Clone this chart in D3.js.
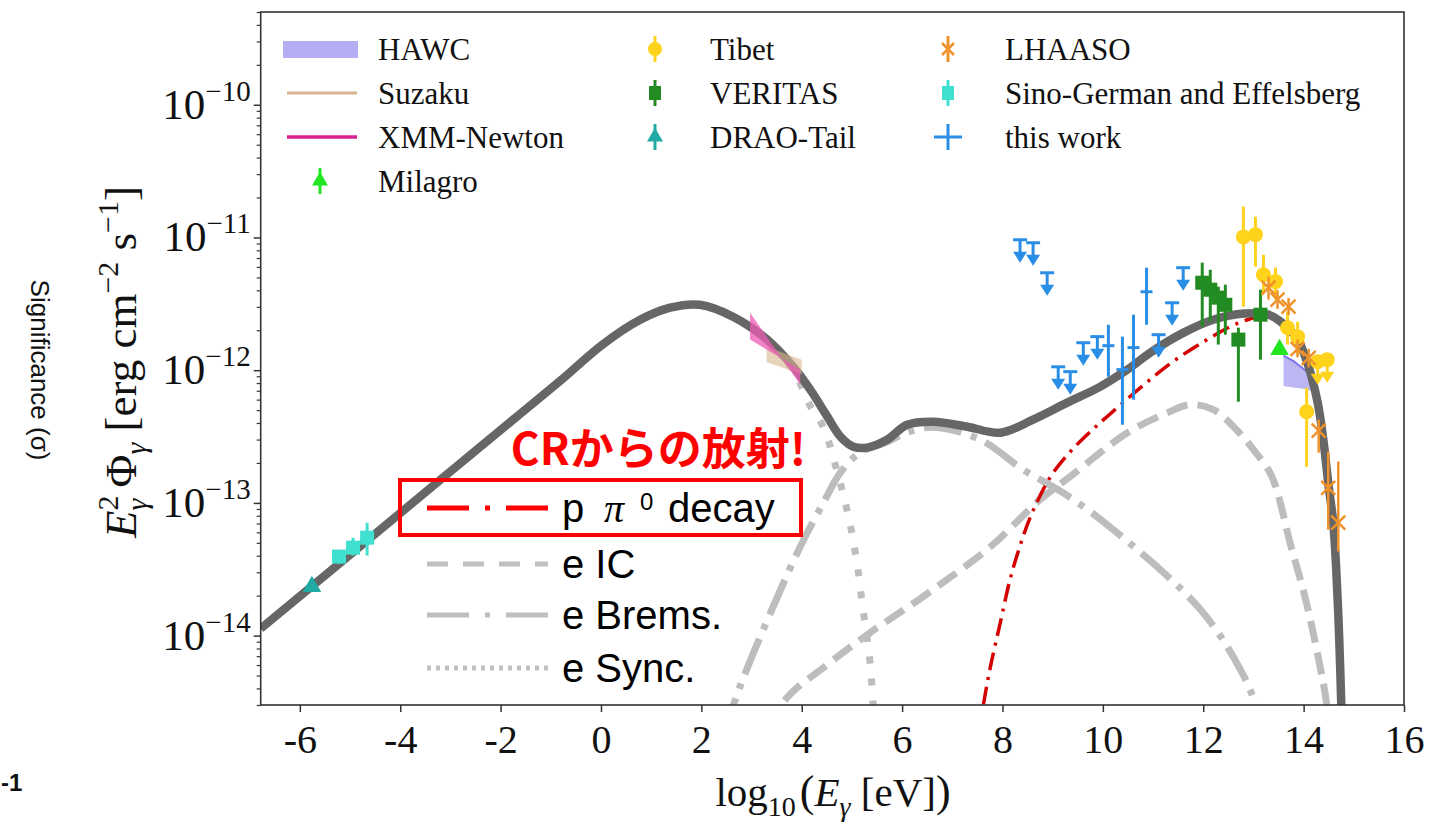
<!DOCTYPE html>
<html>
<head>
<meta charset="utf-8">
<script src="https://cdn.jsdelivr.net/npm/d3@7"></script>
<style>
  body { margin: 0; background: #fff; }
  svg { display: block; }
</style>
</head>
<body>
<div id="chart"></div>
<script>
// x: log10(E / eV), y: E^2 Phi in erg cm^-2 s^-1

const xTicks = [-6, -4, -2, 0, 2, 4, 6, 8, 10, 12, 14, 16];
const yTickExps = [-14, -13, -12, -11, -10];

// model curves
const totalModel = [
  [-6.78, 1.13e-14], [-4.40, 6.28e-14], [-1.75, 4.24e-13], [-0.80, 8.39e-13], [0.03, 1.56e-12],
  [0.78, 2.40e-12], [1.38, 2.96e-12], [1.97, 3.11e-12], [2.63, 2.53e-12], [3.31, 1.70e-12],
  [3.83, 1.06e-12], [4.17, 7.13e-13], [4.51, 4.47e-13], [4.77, 3.16e-13], [5.03, 2.65e-13],
  [5.30, 2.61e-13], [5.70, 2.99e-13], [6.10, 3.88e-13], [6.62, 4.09e-13], [7.30, 3.75e-13],
  [7.96, 3.38e-13], [8.61, 4.24e-13], [9.29, 5.69e-13], [9.95, 7.52e-13], [10.49, 1.01e-12],
  [10.95, 1.36e-12], [11.60, 1.91e-12], [12.20, 2.40e-12], [12.82, 2.67e-12], [13.30, 2.62e-12],
  [13.54, 2.32e-12], [13.88, 1.70e-12], [14.10, 1.06e-12], [14.28, 5.69e-13], [14.40, 2.84e-13],
  [14.49, 1.42e-13], [14.59, 7.10e-14], [14.65, 3.14e-14], [14.71, 9.33e-15], [14.75, 3.02e-15],
  [14.79, 8.22e-16]
];
const syncModel = [
  [-6.78, 1.13e-14], [-4.40, 6.28e-14], [-1.75, 4.24e-13], [-0.80, 8.39e-13], [0.03, 1.56e-12],
  [0.78, 2.40e-12], [1.38, 2.96e-12], [1.97, 3.11e-12], [2.63, 2.53e-12], [3.31, 1.69e-12],
  [3.83, 1.00e-12], [4.17, 5.37e-13], [4.43, 3.72e-13], [4.71, 1.70e-13], [4.93, 7.94e-14],
  [5.10, 3.55e-14], [5.22, 1.58e-14], [5.30, 9.77e-15], [5.36, 6.31e-15], [5.42, 3.16e-15],
  [5.47, 1.26e-15]
];
const icModel = [
  [3.17, 1.17e-15], [3.63, 3.13e-15], [4.50, 6.00e-15], [5.36, 1.05e-14], [6.42, 1.97e-14],
  [7.76, 4.68e-14], [8.75, 1.06e-13], [9.35, 1.58e-13], [10.49, 3.38e-13], [11.29, 4.79e-13],
  [11.74, 5.50e-13], [12.20, 5.04e-13], [12.68, 3.50e-13], [13.00, 2.52e-13], [13.36, 1.60e-13],
  [13.74, 4.84e-14], [14.04, 1.87e-14], [14.30, 6.59e-15], [14.46, 3.02e-15], [14.53, 1.17e-15]
];
const bremsModel = [
  [2.45, 1.80e-15], [2.77, 4.13e-15], [3.43, 1.65e-14], [3.97, 4.68e-14], [4.43, 1.00e-13],
  [4.77, 1.69e-13], [5.16, 2.39e-13], [5.70, 2.88e-13], [6.10, 3.39e-13], [6.62, 3.72e-13],
  [7.56, 2.99e-13], [8.41, 1.78e-13], [9.21, 1.19e-13], [10.21, 6.28e-14], [11.94, 1.58e-14],
  [12.74, 5.55e-15], [13.04, 3.02e-15], [13.18, 1.66e-15]
];
const pionModel = [
  [7.52, 1.66e-15], [7.62, 3.02e-15], [7.76, 5.83e-15], [7.96, 1.27e-14], [8.15, 2.64e-14],
  [8.35, 4.76e-14], [8.55, 7.74e-14], [8.81, 1.26e-13], [9.01, 1.69e-13], [9.35, 2.43e-13],
  [9.75, 3.44e-13], [10.15, 4.70e-13], [10.75, 7.38e-13], [11.34, 1.12e-12], [11.94, 1.58e-12],
  [12.54, 2.13e-12], [12.94, 2.44e-12], [13.24, 2.58e-12]
];

// measurements: [logE, flux, low, high]
const tibet = [
  [12.80, 1.01e-11, 3.01e-12, 1.71e-11], [13.04, 1.05e-11, 6.03e-12, 1.43e-11],
  [13.20, 5.24e-12, 3.90e-12, 7.41e-12], [13.44, 4.65e-12, 3.40e-12, 5.92e-12],
  [13.68, 2.09e-12, 1.56e-12, 2.76e-12], [13.88, 1.79e-12, 1.31e-12, 2.32e-12],
  [14.06, 4.86e-13, 1.87e-13, 7.38e-13]
];
const tibetUL = [[14.28, 1.16e-12], [14.47, 1.20e-12]];
const veritas = [
  [11.98, 4.56e-12, 2.13e-12, 6.46e-12], [12.14, 4.04e-12, 2.32e-12, 5.71e-12],
  [12.30, 3.52e-12, 1.56e-12, 4.26e-12], [12.44, 3.11e-12, 1.85e-12, 4.41e-12],
  [12.70, 1.70e-12, 5.79e-13, 2.09e-12], [13.14, 2.62e-12, 1.20e-12, 4.04e-12]
];
const lhaaso = [
  [13.30, 4.18e-12, 3.40e-12, 5.06e-12], [13.48, 3.40e-12, 2.90e-12, 4.00e-12],
  [13.70, 3.01e-12, 2.60e-12, 3.50e-12], [13.88, 1.45e-12, 1.25e-12, 1.70e-12],
  [14.10, 1.24e-12, 1.05e-12, 1.45e-12], [14.30, 3.50e-13, 2.39e-13, 4.24e-13],
  [14.49, 1.30e-13, 6.28e-14, 2.43e-13], [14.69, 7.10e-14, 4.30e-14, 2.05e-13]
];
const thisWork = [
  [10.11, 1.53e-12, 8.93e-13, 2.20e-12], [10.39, 1.01e-12, 3.88e-13, 1.79e-12],
  [10.61, 1.48e-12, 6.00e-13, 2.62e-12], [10.87, 3.90e-12, 2.20e-12, 5.92e-12]
];
const thisWorkUL = [
  [8.35, 9.62e-12], [8.61, 9.12e-12], [8.89, 5.42e-12], [9.11, 1.06e-12], [9.35, 9.75e-13],
  [9.61, 1.61e-12], [9.89, 1.79e-12], [11.11, 1.85e-12], [11.38, 3.22e-12], [11.60, 5.92e-12]
];
const sinoGerman = [
  [-5.22, 3.94e-14, 3.50e-14, 4.40e-14], [-4.94, 4.60e-14, 4.01e-14, 5.47e-14],
  [-4.66, 5.47e-14, 4.01e-14, 7.10e-14]
];
const draoTail = [[-5.76, 2.34e-14]];
const milagro = [[13.52, 1.43e-12]];

// butterflies: [logE, upper, lower]
const hawcBand = [[13.6, 1.29e-12, 7.59e-13], [13.8, 1.17e-12, 7.41e-13], [14.0, 1.02e-12, 7.24e-13], [14.2, 8.90e-13, 6.92e-13]];
const xmmBow = [[2.97, 2.71e-12, 1.70e-12], [3.97, 7.78e-13, 1.01e-12]];
const suzakuBow = [[3.30, 1.50e-12, 1.15e-12], [4.00, 1.20e-12, 9.30e-13]];

const legendItems = [
  { name: 'HAWC', col: 0, row: 0 }, { name: 'Suzaku', col: 0, row: 1 },
  { name: 'XMM-Newton', col: 0, row: 2 }, { name: 'Milagro', col: 0, row: 3 },
  { name: 'Tibet', col: 1, row: 0 }, { name: 'VERITAS', col: 1, row: 1 },
  { name: 'DRAO-Tail', col: 1, row: 2 },
  { name: 'LHAASO', col: 2, row: 0 }, { name: 'Sino-German and Effelsberg', col: 2, row: 1 },
  { name: 'this work', col: 2, row: 2 }
];
const modelLegend = ['p', 'e IC', 'e Brems.', 'e Sync.'];

const colors = {
  total: '#666666', comp: '#bdbdbd', pion: '#d40000',
  hawc: '#b5aef2', suzaku: '#d8b48e', xmm: '#d8208f',
  milagro: '#22e622', tibet: '#ffd21c', veritas: '#228b22', drao: '#20aaa4',
  lhaaso: '#f0922b', sino: '#40e0d0', work: '#2a8ee6'
};

const serif = '"Liberation Serif", "DejaVu Serif", serif';
const sans = '"Liberation Sans", Arial, sans-serif';

const W = 1434, H = 822;
const plot = { left: 260.7, right: 1404, top: 12, bottom: 705 };

const svg = d3.select('#chart').append('svg').attr('width', W).attr('height', H);
svg.append('rect').attr('width', W).attr('height', H).attr('fill', '#fff');

const x = d3.scaleLinear().domain([-6.78, 16]).range([plot.left, plot.right]);
const y = d3.scaleLog().domain([3.0e-15, 5.0e-10]).range([plot.bottom, plot.top]);

svg.append('defs').append('clipPath').attr('id', 'plotClip')
  .append('rect')
  .attr('x', plot.left).attr('y', plot.top)
  .attr('width', plot.right - plot.left).attr('height', plot.bottom - plot.top);

const g = svg.append('g').attr('clip-path', 'url(#plotClip)');

const line = d3.line()
  .x(d => x(d[0]))
  .y(d => y(d[1]))
  .curve(d3.curveCatmullRom.alpha(0.5));

function drawCurve(data, color, width, dash) {
  g.append('path').datum(data)
    .attr('d', line)
    .attr('fill', 'none')
    .attr('stroke', color)
    .attr('stroke-width', width)
    .attr('stroke-dasharray', dash)
    .attr('stroke-linejoin', 'round');
}

// electron components, pion, then total on top
drawCurve(bremsModel, colors.comp, 7, '38 10 6 10');
drawCurve(icModel, colors.comp, 7, '22 10');
drawCurve(syncModel, colors.comp, 7, '7 15');
drawCurve(pionModel, colors.pion, 3.5, '18 7 3 7');

// HAWC band
const bandArea = d3.area()
  .x(d => x(d[0]))
  .y0(d => y(d[2]))
  .y1(d => y(d[1]));
g.append('path').datum(hawcBand).attr('d', bandArea).attr('fill', colors.hawc).attr('opacity', 0.9);
g.append('path').datum(hawcBand)
  .attr('d', d3.line().x(d => x(d[0])).y(d => y(d[1])))
  .attr('fill', 'none').attr('stroke', '#7f74e6').attr('stroke-width', 2);

drawCurve(totalModel, colors.total, 8.5, null);

// bow-ties (drawn as crossing quads)
function bowtie(data, fill, opacity) {
  const pts = [
    [x(data[0][0]), y(data[0][1])], [x(data[1][0]), y(data[1][1])],
    [x(data[1][0]), y(data[1][2])], [x(data[0][0]), y(data[0][2])]
  ];
  g.append('path').attr('d', 'M' + pts.join('L') + 'Z')
    .attr('fill', fill).attr('opacity', opacity);
}
bowtie(suzakuBow, colors.suzaku, 0.6);
bowtie(xmmBow, '#ec5cb4', 0.75);

// error bars
function errorBars(data, color, width) {
  g.append('g').selectAll('line').data(data).join('line')
    .attr('x1', d => x(d[0])).attr('x2', d => x(d[0]))
    .attr('y1', d => y(d[2])).attr('y2', d => y(d[3]))
    .attr('stroke', color).attr('stroke-width', width);
}

function squares(data, color, size) {
  g.append('g').selectAll('rect').data(data).join('rect')
    .attr('x', d => x(d[0]) - size / 2).attr('y', d => y(d[1]) - size / 2)
    .attr('width', size).attr('height', size).attr('fill', color);
}

function triangles(data, color, size) {
  g.append('g').selectAll('path').data(data).join('path')
    .attr('transform', d => `translate(${x(d[0])},${y(d[1])})`)
    .attr('d', d3.symbol(d3.symbolTriangle, size))
    .attr('fill', color);
}

function upperLimits(data, color, capHalf) {
  const ul = g.append('g').selectAll('g').data(data).join('g')
    .attr('transform', d => `translate(${x(d[0])},${y(d[1])})`);
  if (capHalf) {
    ul.append('line').attr('x1', -capHalf).attr('x2', capHalf)
      .attr('stroke', color).attr('stroke-width', 3);
  }
  ul.append('line').attr('y1', 0).attr('y2', 14).attr('stroke', color).attr('stroke-width', 3);
  ul.append('path').attr('d', 'M-7,12L7,12L0,23Z').attr('fill', color);
}

// this work
upperLimits(thisWorkUL, colors.work, 7);
errorBars(thisWork, colors.work, 3);
g.append('g').selectAll('line').data(thisWork).join('line')
  .attr('x1', d => x(d[0]) - 6).attr('x2', d => x(d[0]) + 6)
  .attr('y1', d => y(d[1])).attr('y2', d => y(d[1]))
  .attr('stroke', colors.work).attr('stroke-width', 3);

// VERITAS
errorBars(veritas, colors.veritas, 3);
squares(veritas, colors.veritas, 14);

// Tibet
errorBars(tibet, colors.tibet, 3);
g.append('g').selectAll('circle').data(tibet).join('circle')
  .attr('cx', d => x(d[0])).attr('cy', d => y(d[1])).attr('r', 7.5)
  .attr('fill', colors.tibet);
upperLimits(tibetUL, colors.tibet, 0);
g.append('g').selectAll('circle').data(tibetUL).join('circle')
  .attr('cx', d => x(d[0])).attr('cy', d => y(d[1])).attr('r', 7.5)
  .attr('fill', colors.tibet);

// LHAASO
errorBars(lhaaso, colors.lhaaso, 2.5);
g.append('g').selectAll('path').data(lhaaso).join('path')
  .attr('transform', d => `translate(${x(d[0])},${y(d[1])})`)
  .attr('d', 'M-7,-7L7,7M-7,7L7,-7')
  .attr('stroke', colors.lhaaso).attr('stroke-width', 2.5).attr('fill', 'none');

// Milagro
triangles(milagro, colors.milagro, 150);

// radio
errorBars(sinoGerman, colors.sino, 3);
squares(sinoGerman, colors.sino, 14);
triangles(draoTail, colors.drao, 150);

// axes
const xAxis = d3.axisBottom(x).tickValues(xTicks).tickSize(7).tickSizeOuter(0)
  .tickFormat(d => String(d));
const xg = svg.append('g').attr('transform', `translate(0,${plot.bottom})`).call(xAxis);
xg.select('.domain').remove();
xg.selectAll('line').attr('stroke', '#333').attr('stroke-width', 1.5);
xg.selectAll('text')
  .attr('y', 20)
  .attr('fill', '#111')
  .style('font-family', serif)
  .style('font-size', '40px');

const majorVals = yTickExps.map(e => Math.pow(10, e));
const minorVals = y.ticks().filter(v => !majorVals.some(m => Math.abs(v / m - 1) < 1e-6));

const yMinor = svg.append('g').attr('transform', `translate(${plot.left},0)`)
  .call(d3.axisLeft(y).tickValues(minorVals).tickSize(4).tickFormat(''));
yMinor.select('.domain').remove();
yMinor.selectAll('line').attr('stroke', '#333').attr('stroke-width', 1.2);

const yMajor = svg.append('g').attr('transform', `translate(${plot.left},0)`)
  .call(d3.axisLeft(y).tickValues(majorVals).tickSize(7).tickFormat(''));
yMajor.select('.domain').remove();
yMajor.selectAll('line').attr('stroke', '#333').attr('stroke-width', 1.5);

yTickExps.forEach(e => {
  const t = svg.append('text')
    .attr('x', plot.left - 10)
    .attr('y', y(Math.pow(10, e)) + 14)
    .attr('text-anchor', 'end')
    .attr('fill', '#111')
    .style('font-family', serif)
    .style('font-size', '43px');
  t.append('tspan').text('10');
  t.append('tspan').attr('dy', -18).style('font-size', '29px').text('\u2212' + Math.abs(e));
});

// frame
svg.append('rect')
  .attr('x', plot.left).attr('y', plot.top)
  .attr('width', plot.right - plot.left).attr('height', plot.bottom - plot.top)
  .attr('fill', 'none').attr('stroke', '#333').attr('stroke-width', 1.6);

// axis titles
const xl = svg.append('text')
  .attr('x', 833).attr('y', 806)
  .attr('text-anchor', 'middle')
  .attr('fill', '#111')
  .style('font-family', serif)
  .style('font-size', '41px');
xl.append('tspan').text('log');
xl.append('tspan').attr('dy', 10).style('font-size', '28px').text('10');
xl.append('tspan').attr('dy', -10).attr('dx', 4).style('font-size', '44px').text('(');
xl.append('tspan').style('font-style', 'italic').text('E');
xl.append('tspan').attr('dy', 10).style('font-size', '28px').style('font-style', 'italic').text('\u03b3');
xl.append('tspan').attr('dy', -10).text(' [eV]');
xl.append('tspan').style('font-size', '44px').text(')');

const yl = svg.append('text')
  .attr('transform', 'translate(136,362) rotate(-90)')
  .attr('text-anchor', 'middle')
  .attr('fill', '#111')
  .style('font-family', serif)
  .style('font-size', '45px');
yl.append('tspan').style('font-style', 'italic').text('E');
yl.append('tspan').attr('dy', -18).style('font-size', '30px').text('2');
yl.append('tspan').attr('dx', -15).attr('dy', 29).style('font-size', '30px').style('font-style', 'italic').text('\u03b3');
yl.append('tspan').attr('dy', -11).text(' \u03a6');
yl.append('tspan').attr('dy', 10).style('font-size', '30px').style('font-style', 'italic').text('\u03b3');
yl.append('tspan').attr('dy', -10).text(' [erg cm');
yl.append('tspan').attr('dy', -18).style('font-size', '30px').text('\u22122');
yl.append('tspan').attr('dy', 18).text(' s');
yl.append('tspan').attr('dy', -18).style('font-size', '30px').text('\u22121');
yl.append('tspan').attr('dy', 18).text(']');

svg.append('text')
  .attr('transform', 'translate(31,370) rotate(90)')
  .attr('text-anchor', 'middle')
  .attr('fill', '#111')
  .style('font-family', sans)
  .style('font-size', '26px')
  .text('Significance (\u03c3)');

svg.append('text')
  .attr('x', 1).attr('y', 791)
  .attr('fill', '#111')
  .style('font-family', sans)
  .style('font-size', '24px')
  .style('font-weight', 'bold')
  .text('-1');

// upper legend
const legCols = [{ mark: 320, text: 378 }, { mark: 655, text: 710 }, { mark: 948, text: 1005 }];
const legRow = r => 49 + r * 44;
const leg = svg.append('g');

legendItems.forEach(it => {
  const mx = legCols[it.col].mark, cy = legRow(it.row);
  leg.append('text')
    .attr('x', legCols[it.col].text).attr('y', cy + 11)
    .attr('fill', '#111')
    .style('font-family', serif).style('font-size', '31px')
    .text(it.name);
  const vbar = c => leg.append('line').attr('x1', mx).attr('x2', mx)
    .attr('y1', cy - 13).attr('y2', cy + 13).attr('stroke', c).attr('stroke-width', 3);
  switch (it.name) {
    case 'HAWC':
      leg.append('rect').attr('x', 283).attr('y', cy - 8).attr('width', 75).attr('height', 17).attr('fill', colors.hawc);
      break;
    case 'Suzaku':
      leg.append('line').attr('x1', 287).attr('x2', 357).attr('y1', cy).attr('y2', cy)
        .attr('stroke', colors.suzaku).attr('stroke-width', 3);
      break;
    case 'XMM-Newton':
      leg.append('line').attr('x1', 287).attr('x2', 357).attr('y1', cy).attr('y2', cy)
        .attr('stroke', colors.xmm).attr('stroke-width', 3.5);
      break;
    case 'Milagro':
      vbar(colors.milagro);
      leg.append('path').attr('transform', `translate(${mx},${cy})`)
        .attr('d', d3.symbol(d3.symbolTriangle, 110)).attr('fill', colors.milagro);
      break;
    case 'Tibet':
      vbar(colors.tibet);
      leg.append('circle').attr('cx', mx).attr('cy', cy).attr('r', 7).attr('fill', colors.tibet);
      break;
    case 'VERITAS':
      vbar(colors.veritas);
      leg.append('rect').attr('x', mx - 6).attr('y', cy - 7).attr('width', 12).attr('height', 14).attr('fill', colors.veritas);
      break;
    case 'DRAO-Tail':
      vbar(colors.drao);
      leg.append('path').attr('transform', `translate(${mx},${cy})`)
        .attr('d', d3.symbol(d3.symbolTriangle, 110)).attr('fill', colors.drao);
      break;
    case 'LHAASO':
      vbar(colors.lhaaso);
      leg.append('path').attr('transform', `translate(${mx},${cy})`)
        .attr('d', 'M-6,-6L6,6M-6,6L6,-6').attr('stroke', colors.lhaaso).attr('stroke-width', 2.5);
      break;
    case 'Sino-German and Effelsberg':
      vbar(colors.sino);
      leg.append('rect').attr('x', mx - 6).attr('y', cy - 7).attr('width', 12).attr('height', 14).attr('fill', colors.sino);
      break;
    case 'this work':
      vbar(colors.work);
      leg.append('line').attr('x1', mx - 14).attr('x2', mx + 14).attr('y1', cy).attr('y2', cy)
        .attr('stroke', colors.work).attr('stroke-width', 3);
      break;
  }
});

// annotation overlay
svg.append('text')
  .attr('x', 806).attr('y', 465)
  .attr('text-anchor', 'end')
  .attr('fill', '#ff0000')
  .style('font-family', '"Noto Sans CJK JP", sans-serif')
  .style('font-size', '44px')
  .style('font-weight', 'bold')
  .text('CR\u304b\u3089\u306e\u653e\u5c04!');

svg.append('rect')
  .attr('x', 400).attr('y', 480).attr('width', 401).attr('height', 55)
  .attr('fill', 'none').attr('stroke', '#ff0000').attr('stroke-width', 4);

const modelRows = [
  { y: 508, color: '#ff0000', dash: '42 16 5 16' },
  { y: 564, color: '#bfbfbf', dash: '21 15' },
  { y: 615, color: '#bfbfbf', dash: '42 16 5 16' },
  { y: 668, color: '#bfbfbf', dash: '4 5' }
];
modelRows.forEach((r, i) => {
  svg.append('line')
    .attr('x1', 427).attr('x2', 548).attr('y1', r.y).attr('y2', r.y)
    .attr('stroke', r.color).attr('stroke-width', 5).attr('stroke-dasharray', r.dash);
  const t = svg.append('text')
    .attr('x', 562).attr('y', r.y + 14)
    .attr('fill', '#000')
    .style('font-family', sans)
    .style('font-size', '40px');
  t.append('tspan').text(modelLegend[i]);
  if (i === 0) {
    t.append('tspan').attr('x', 604).style('font-family', serif).style('font-style', 'italic').text('\u03c0');
    t.append('tspan').attr('x', 640).attr('dy', -12).style('font-size', '24px').text('0');
    t.append('tspan').attr('x', 668).attr('dy', 12).text('decay');
  }
});
</script>
</body>
</html>
